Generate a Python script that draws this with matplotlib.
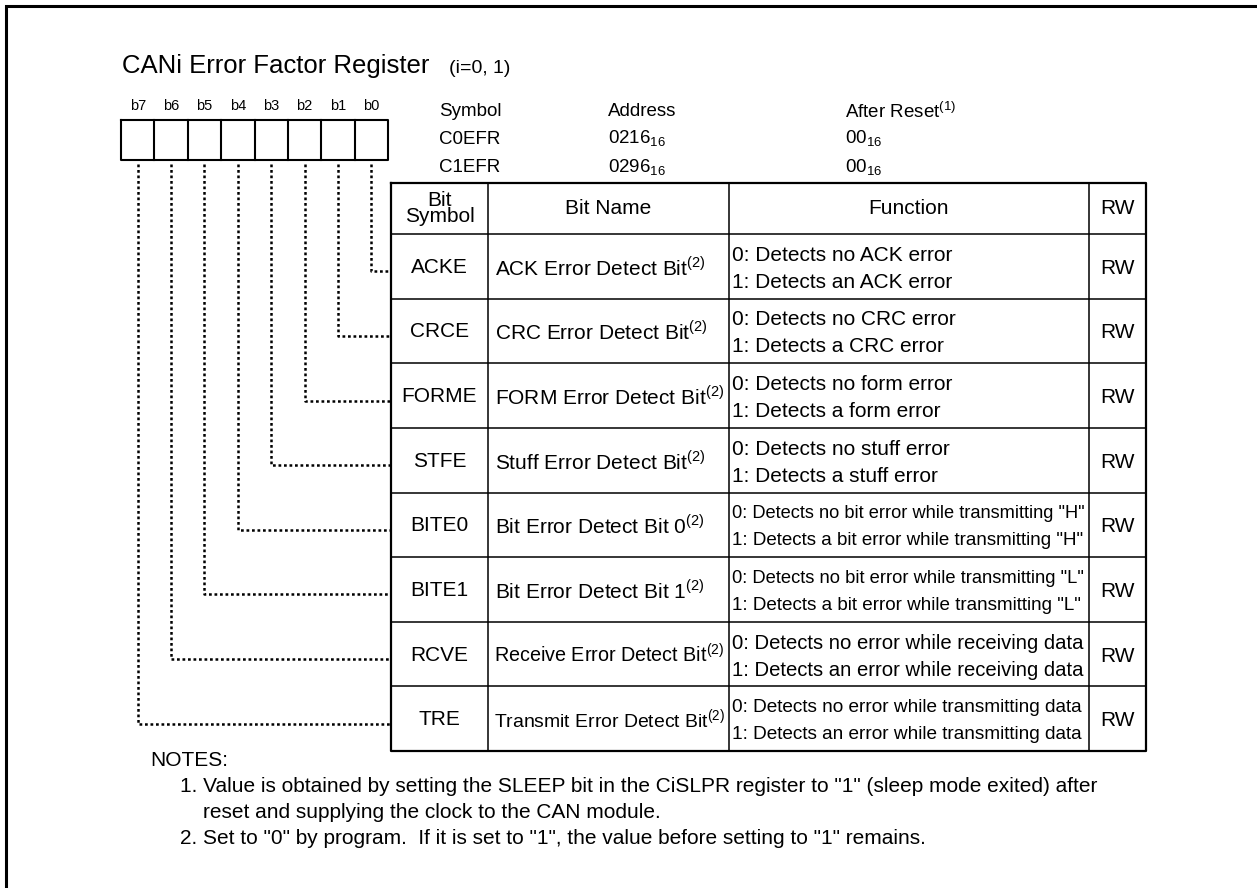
import matplotlib
matplotlib.use('Agg')
import matplotlib.pyplot as plt

plt.rcParams['font.family'] = ['Liberation Sans', 'DejaVu Sans']
plt.rcParams['mathtext.fontset'] = 'custom'
plt.rcParams['mathtext.rm'] = 'Liberation Sans'

# data
title = 'CANi Error Factor Register'
title_note = '(i=0, 1)'
bit_labels = ['b7', 'b6', 'b5', 'b4', 'b3', 'b2', 'b1', 'b0']
reg_symbols = ['C0EFR', 'C1EFR']
reg_addresses = ['0216', '0296']
reg_reset = ['00', '00']
symbols = ['ACKE', 'CRCE', 'FORME', 'STFE', 'BITE0', 'BITE1', 'RCVE', 'TRE']
bit_names = ['ACK Error Detect Bit', 'CRC Error Detect Bit', 'FORM Error Detect Bit',
             'Stuff Error Detect Bit', 'Bit Error Detect Bit 0', 'Bit Error Detect Bit 1',
             'Receive Error Detect Bit', 'Transmit Error Detect Bit']
func0 = ['0: Detects no ACK error', '0: Detects no CRC error', '0: Detects no form error',
         '0: Detects no stuff error', '0: Detects no bit error while transmitting "H"',
         '0: Detects no bit error while transmitting "L"',
         '0: Detects no error while receiving data', '0: Detects no error while transmitting data']
func1 = ['1: Detects an ACK error', '1: Detects a CRC error', '1: Detects a form error',
         '1: Detects a stuff error', '1: Detects a bit error while transmitting "H"',
         '1: Detects a bit error while transmitting "L"',
         '1: Detects an error while receiving data', '1: Detects an error while transmitting data']
rw = ['RW'] * 8
notes = ['NOTES:',
         '1. Value is obtained by setting the SLEEP bit in the CiSLPR register to "1" (sleep mode exited) after',
         'reset and supplying the clock to the CAN module.',
         '2. Set to "0" by program.  If it is set to "1", the value before setting to "1" remains.']

fig = plt.figure(figsize=(12.57, 8.88), dpi=100)
ax = fig.add_axes([0, 0, 1, 1])
ax.set_xlim(0, 1257)
ax.set_ylim(888, 0)
ax.axis('off')
renderer = fig.canvas.get_renderer()


def fit_text(x, y, s, maxw, size=15, **kw):
    # shrink the font until the text fits the cell width
    t = ax.text(x, y, s, fontsize=size, **kw)
    w = t.get_window_extent(renderer).width
    if w > maxw:
        t.set_fontsize(size * maxw / w)
    return t


# outer frame (only top and left visible)
ax.plot([6, 6, 1257], [888, 6, 6], color='black', lw=2.2, solid_joinstyle='miter')

# title
ax.text(122, 73, title, fontsize=18.5, ha='left', va='baseline')
ax.text(449, 73, title_note, fontsize=14, ha='left', va='baseline')

# bit box
box_l, box_r, box_t, box_b = 121, 388, 120, 160
n = len(bit_labels)
cw = (box_r - box_l) / n
ax.plot([box_l, box_r, box_r, box_l, box_l], [box_t, box_t, box_b, box_b, box_t], color='black', lw=1.5)
for i, lab in enumerate(bit_labels):
    cx = box_l + cw * (i + 0.5)
    if i > 0:
        ax.plot([box_l + cw * i] * 2, [box_t, box_b], color='black', lw=1.5)
    ax.text(cx, 106, lab, fontsize=10.5, ha='center', va='center')

# register info
ax.text(439, 112, 'Symbol', fontsize=13.5, ha='left', va='center')
ax.text(608, 112, 'Address', fontsize=13.5, ha='left', va='center')
ax.text(845, 112, r'After Reset$^{\mathregular{(1)}}$', fontsize=13.5, ha='left', va='center')
for k in range(len(reg_symbols)):
    y = 139 + 29 * k
    ax.text(439, y, reg_symbols[k], fontsize=13.5, ha='left', va='center')
    ax.text(608, y, reg_addresses[k] + r'$_{\mathregular{16}}$', fontsize=13.5, ha='left', va='center')
    ax.text(845, y, reg_reset[k] + r'$_{\mathregular{16}}$', fontsize=13.5, ha='left', va='center')

# table
cols = [391, 488, 729, 1089, 1146]
top, head_b, bottom = 183, 234, 751
rh = (bottom - head_b) / len(symbols)
for x in cols[1:-1]:
    ax.plot([x, x], [top, bottom], color='black', lw=1.1)
for r in range(len(symbols)):
    y = head_b + rh * r
    ax.plot([cols[0], cols[-1]], [y, y], color='black', lw=1.1)
ax.plot([cols[0], cols[-1], cols[-1], cols[0], cols[0]], [top, top, bottom, bottom, top],
        color='black', lw=1.6)

hy = (top + head_b) / 2
ax.text((cols[0] + cols[1]) / 2, hy, 'Bit\nSymbol', fontsize=15, ha='center', va='center', linespacing=0.82)
ax.text((cols[1] + cols[2]) / 2, hy, 'Bit Name', fontsize=15, ha='center', va='center')
ax.text((cols[2] + cols[3]) / 2, hy, 'Function', fontsize=15, ha='center', va='center')
ax.text((cols[3] + cols[4]) / 2, hy, 'RW', fontsize=15, ha='center', va='center')

for r in range(len(symbols)):
    cy = head_b + rh * (r + 0.5)
    ax.text((cols[0] + cols[1]) / 2, cy + 1, symbols[r], fontsize=15, ha='center', va='center')
    label = bit_names[r] + r'$^{\mathregular{(2)}}$'
    t = fit_text(cols[1] + 7, cy + 1, label, cols[2] - cols[1] - 10, ha='left', va='center')
    if t.get_fontsize() < 15:
        t.set_ha('center')
        t.set_x((cols[1] + cols[2]) / 2 + 1)
    fit_text(cols[2] + 3, cy - 11, func0[r], cols[3] - cols[2] - 7, ha='left', va='center')
    fit_text(cols[2] + 3, cy + 16, func1[r], cols[3] - cols[2] - 7, ha='left', va='center')
    ax.text((cols[3] + cols[4]) / 2, cy + 2, rw[r], fontsize=15, ha='center', va='center')

    # dotted leader from bit cell down and across to the row
    bx = box_l + cw * (n - 1 - r + 0.5)
    ly = cy + 5
    ax.plot([bx, bx, cols[0]], [box_b + 4, ly, ly], color='black', lw=1.8,
            linestyle=(0, (1.1, 1.1)), dash_capstyle='butt')

# notes
ax.text(150, 760, notes[0], fontsize=15, ha='left', va='center')
ax.text(180, 786, notes[1], fontsize=15, ha='left', va='center')
ax.text(203, 812, notes[2], fontsize=15, ha='left', va='center')
ax.text(180, 838, notes[3], fontsize=15, ha='left', va='center')

fig.savefig('out.png', dpi=100)
